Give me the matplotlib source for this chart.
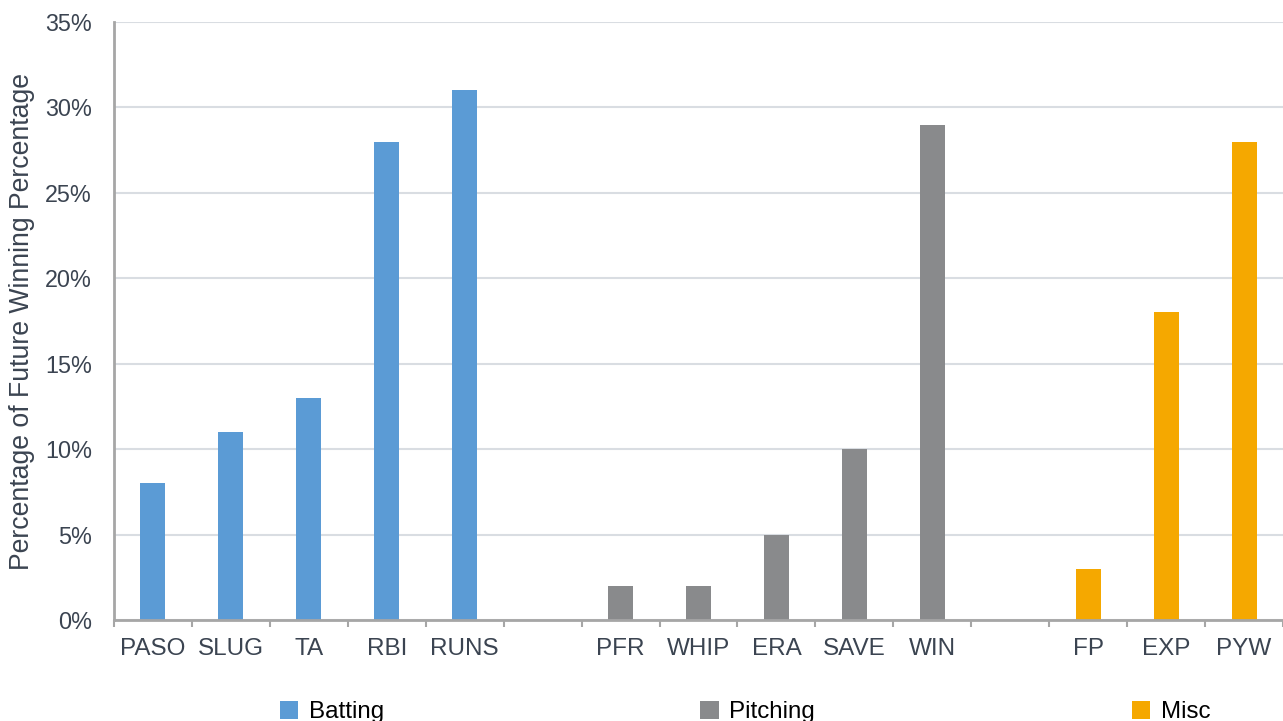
import numpy as np
import matplotlib.pyplot as plt
from matplotlib.patches import Patch

plt.rcParams['font.family'] = ['Liberation Sans', 'DejaVu Sans']

batting_labels = ['PASO', 'SLUG', 'TA', 'RBI', 'RUNS']
batting_values = [8, 11, 13, 28, 31]
pitching_labels = ['PFR', 'WHIP', 'ERA', 'SAVE', 'WIN']
pitching_values = [2, 2, 5, 10, 29]
misc_labels = ['FP', 'EXP', 'PYW']
misc_values = [3, 18, 28]

groups = [('Batting', batting_labels, batting_values, '#5B9BD5'),
          ('Pitching', pitching_labels, pitching_values, '#898A8C'),
          ('Misc', misc_labels, misc_values, '#F5A800')]

text_color = '#3B4451'

fig = plt.figure(figsize=(12.83, 7.21), dpi=100)
ax = fig.add_axes([114 / 1283, 1 - 620 / 721, 1 - 114 / 1283, 598 / 721])

# one empty slot between groups
pos = 0
ticks, ticklabels, handles = [], [], []
for name, labels, values, color in groups:
    x = np.arange(pos, pos + len(labels))
    ax.bar(x, values, width=0.32, color=color, zorder=3)
    ticks.extend(x)
    ticklabels.extend(labels)
    handles.append(Patch(facecolor=color, label=name))
    pos += len(labels) + 1

ax.set_xlim(-0.5, pos - 1.5)
ax.set_ylim(0, 35)
ax.set_yticks(np.arange(0, 36, 5))
ax.set_yticklabels(['%d%%' % v for v in range(0, 36, 5)])

ax.set_xticks(ticks)
ax.set_xticklabels(ticklabels)
ax.set_xticks(np.arange(-0.5, pos - 1.4, 1), minor=True)
ax.tick_params(axis='x', which='major', length=0, pad=13, labelsize=17.5, labelcolor=text_color)
ax.tick_params(axis='x', which='minor', length=5, width=1.5, color='#A6A6A6', direction='out')
ax.tick_params(axis='y', length=0, pad=16, labelsize=16.8, labelcolor=text_color)

ax.grid(axis='y', color='#D9DDE2', linewidth=1.5, zorder=0)
ax.set_axisbelow(True)
for side in ['top', 'right']:
    ax.spines[side].set_visible(False)
for side in ['left', 'bottom']:
    ax.spines[side].set_color('#A6A6A6')
    ax.spines[side].set_linewidth(2)
ax.spines['bottom'].set_zorder(4)

ax.set_ylabel('Percentage of Future Winning Percentage', fontsize=19.2, color=text_color, labelpad=7)

fig.legend(handles=handles, loc='center', bbox_to_anchor=(745 / 1283, 1 - 712 / 721),
           ncol=3, frameon=False, fontsize=17.4, handlelength=0.75, handleheight=0.75,
           handletextpad=0.45, columnspacing=13.1)

fig.savefig('out.png', dpi=100)
plt.close()
